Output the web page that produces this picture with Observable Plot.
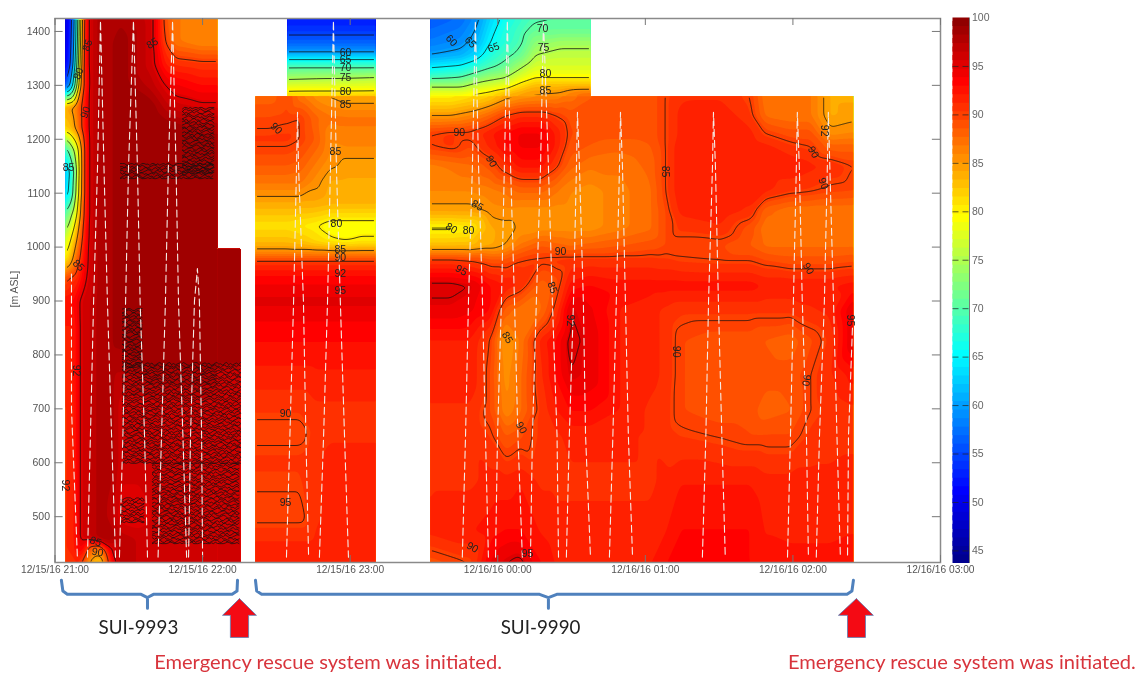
<!DOCTYPE html>
<html><head><meta charset="utf-8">
<script src="https://cdn.jsdelivr.net/npm/d3@7"></script>
<script src="https://cdn.jsdelivr.net/npm/@observablehq/plot@0.6"></script>
<style>
html,body{margin:0;padding:0;background:#fff;overflow:hidden}
#wrap{position:relative;width:1141px;height:675px}
#wrap>svg{position:absolute;left:0;top:0;background:transparent;filter:blur(0.35px)}
#wrap>svg.bar{left:945px;top:8px}
</style></head><body><div id="wrap"></div>
<script>
// Axis labels
const hourTicks=[0,60,120,180,240,300,360];
const hourLabels=["12/15/16 21:00","12/15/16 22:00","12/15/16 23:00","12/16/16 00:00","12/16/16 01:00","12/16/16 02:00","12/16/16 03:00"];
const heightTicks=[500,600,700,800,900,1000,1100,1200,1300,1400];
const barTicks=[45,50,55,60,65,70,75,80,85,90,95,100];
const rhMin=43.7,rhMax=100;

// Section SUI-9993, main part: minutes after 21:00 / m ASL / relative humidity
const aTimes=[4.3,6.3,8.3,9.6,10.8,12.4,14.4,18.5,22.6,26.6,38.8,42.1,44.9,49,59.1,66];
const aHeights=[1424,1380,1340,1300,1260,1220,1180,1140,1100,1060,1020,980,940,900,850,800,700,600,500,460,440,414];
const aValues=[
[49,52,62,72,84,93,96,98,98,98,96,93,89,87,86,86],
[49,53,63,73,85,93,96,98,98,99,96,93,90,87,86,86],
[50,54,65,75,86,93,96,98,98,99,96,94,92,91,90.5,90.5],
[55,60,70,80,87,92,96,98,98,99,97,96,95,94,93,93],
[84,85,86,88,90,93,96,98,98,99,99,98,97,96,95.5,95.5],
[82,83,85,87,90,93,96,98,98,99,99,99,99,99,98,98],
[68,72,76,80,85,92,96,98,98,99,99,99,99,99,99,99],
[62,65,72,79,85,92,96,98,98,99,99,99,99,99,99,99],
[63,66,74,80,85,92,96,98,98,99,99,99,99,99,99,99],
[70,74,78,82,87,92,96,98,98,99,99,99,99,99,99,99],
[76,79,83,86,89,93,96,98,98,99,99,99,99,99,99,99],
[80,83,87,89,91,94,96,98,98,99,99,99,99,99,99,99],
[89,91,91,92,93,95,96,98,98,99,99,99,99,99,99,99],
[93,93,93,95,95.5,96,96.5,98,98,99,99,99,99,99,99,99],
[92,92,92,95,95.5,96,96.5,98,98,99,99,99,99,99,99,99],
[91.5,92,92,95,95.5,96,96.5,98,98,98,99,99,99,99,99,99],
[91,91.5,92,95,95.5,96,96.5,98,98,96,96,96,96,96,96,96],
[91,91.5,92,95,95.5,96,96.5,98,98,96,96,96,96,96,96,96],
[91,91.5,92,95,95.5,96,96.5,98,97,95,95.5,96,96,96,96,96],
[91,91.5,92,95,95.5,96,96.5,98,98,97,96,96,96,96,96,96],
[91,91.5,92,94,94,92,88,87,95,97,96,96,96,96,96,96],
[90,90.5,91,91.5,90,88,84,82,92,97,96,96,96,96,96,96]];

// SUI-9993, lower tail
const a2Times=[66,75.4];
const a2Heights=[997,900,790,770,415];
const a2Values=[[99,99],[99,99],[99,99],[96,96],[96,96]];

// SUI-9990, first block, upper part
const bTopTimes=[94.5,112,130.3];
const bTopHeights=[1424,1402,1376,1361,1348,1333,1313,1289,1280];
const bTopValues=[[52.5,52.5,52.5],[54,54,54],[57,57,57],[60,60,60],[65,65,65],[70,70,70],[74.5,75,75.5],[80,80,80],[82,82.5,83]];

// SUI-9990, first block, main part
const bTimes=[81.5,87.6,94.5,99.8,105.9,112,118.1,124.2,130.3];
const bHeights=[1280,1240,1200,1160,1120,1081,1040,1010,990,970,940,900,851,801,700,660,604,500,446,415];
const bValues=[
[88,88,89.5,87,85.5,84.8,84,84,84],
[89.5,89.5,89.8,90,88,87,87,87,87],
[90.5,90.5,90.5,90,88.5,86,86.5,86.5,86.5],
[89,89,89,88.5,87,85.5,84.8,84.8,84.8],
[87,87,87,87,85.5,84,84,84,84],
[84,84,84,84,84,83.5,83.5,83.5,83.5],
[81,81,81,80.5,80,79,79,79,79],
[83,83,83,82.5,81.5,80.5,80,80.5,80.5],
[86,86,86,86,86,86,86,86,86],
[91,91,91,91,91,91,91,91,91],
[93.5,93.5,93.5,93.5,93.5,93.5,93.5,93.5,93.5],
[95,95,95,95,95,95,95,95,95],
[93.5,93.5,93.5,93.5,93.5,93.5,93.5,93.5,93.5],
[92.5,92.5,92.5,92.5,92.5,92.5,92.5,92.5,92.5],
[90.5,90.5,90.5,90.5,91,91,91,91,91],
[89.5,89.5,89.5,89.5,90.7,91,91,91,91],
[90.5,90.5,90.5,90.5,91,91.5,91.5,91.5,91.5],
[89.6,89.6,89.6,89.6,91,91.5,91.5,91.5,91.5],
[91.5,91.5,91.5,91.5,91.5,91.5,91.5,91.5,91.5],
[92,92,92,92,92,92,92,92,92]];

// SUI-9990, second block, upper part
const cTopTimes=[152.6,164.8,170.9,177,183.1,189.2,195.3,205.5,217.7];
const cTopHeights=[1424,1402,1380,1356,1337,1319,1300,1280];
const cTopValues=[
[56,57,59,63,66,68,69.5,70,70],
[57,58,60,64,67,69,71,71,71],
[58,59,61,65,67.5,69.5,73,74,74],
[60,61,63,67,69,71,75,76,76],
[64,65,67,69,71,74,77,77,77],
[68,69,71,73,74,77,79,79,79],
[74,74,76,77,78,81,83,83,83],
[80,80,81,82,84,85,85.5,86,88.5]];

// SUI-9990, second block, main part
const cTimes=[152.6,160.8,168.9,177,183.1,189.2,197.4,203.5,209.6,217.7,229.9,242.1,248.2,254.2,270.5,282.7,288.8,299,307.1,315.2,324.5];
const cHeights=[1280,1244,1211,1187,1151,1105,1068,1035,1003,975,929,882,827,762,697,650,567,474,414];
const cValues=[
[80,80,81,82,84,85,85.5,86,87,88.5,89,89,90,91,91,90,87,87,87,84,84],
[85,85,86,88,90,91,91,90,89,89,89,89,90,91.5,92,90.5,87.5,87,87,84,84.5],
[90,90.5,90.5,92,93,94,94,92,89.5,89,89,89,90,91.5,92,91.5,90,89,89,85.5,86],
[90,90.5,89.5,91.5,93,94,94,92,89,88.5,88,88.5,90,92,92,92,91.5,90.5,90,88,88],
[86.5,87,87.5,89,91,92.5,92.5,90.5,88,87,87,88,90,92,92,92,92,92,91.5,91,90],
[86,86,86,86.5,87,88,88,87,86,85.5,86.5,87.5,90,92,92,92,91.5,90.5,90.2,89.7,89.5],
[84.5,84.5,84.5,85.5,85.7,85.5,85.5,85.5,85.5,85.5,86.5,87.5,89.5,91.5,92,91,88,87,87,87,87],
[79.5,79.5,80,84,84.5,85.2,85.5,85.5,85.5,85.5,86.5,87.5,89.5,90.5,91,89,87,87,87,87,87],
[83,83,83,84,85,87,88.5,88,87.5,88,88.5,89,89.5,89.5,89.5,88.5,87.5,87.5,87.5,87.5,87.5],
[90.5,90.5,90,89,89,90,90.3,90.5,90.7,90.7,90.7,90.7,90.5,90.2,90,90,89.5,89,89,89,89.3],
[95.5,95.5,95,93,92,91,88,89,92.5,93,92.5,92.5,92.5,92.5,92.5,92.5,92,92,92,92,92.5],
[94.5,94.5,94,93,88,87,87.5,90.5,95,94,92,91.5,91,90.5,90.5,90.5,90.5,90.5,91,91.5,95],
[92,92,92,90,84.5,87,91.5,93,95.5,94.5,92,91.5,91,89.5,89,89,88.5,88,89.3,90.5,95],
[92,92,92,89.5,85.3,87.5,91,93,95,94.5,92,91.5,91,89.5,89,89,89,89,90,91,92.5],
[91,91,91,89.5,86,87.5,90.5,92,93,93,92,91,90.7,89.5,89,89,88,88.5,90,90.5,91],
[91,91,91,90.3,88.5,89.3,90.5,91,91.5,91.5,91.5,91,90.7,90.3,89.9,89.5,89.5,89.5,90.5,90.7,91],
[91,91,91,91.5,91.5,92,91,91,91,91,91,91,91.5,92,92,92,91.5,91.5,91.5,91.5,91.5],
[91.5,92,92,92.5,93,93,92,91.5,91.5,91.5,91.5,91.5,92,93,93,93,92,91.5,91.5,91.5,92],
[89,89.5,90,94,95,95.5,93,92,92,92,92,92,93,93,93,93,92.5,93,93,93,93]];

// Tangled isolines of the SUI-9993 block: [t1,t2,h1,h2]
const tangleBlocks=[[51.8,65.2,1137,1259],[26.6,64.4,1127,1155],[27.4,36,777,886],[27.4,75.4,599,786],[39.6,75.4,450,599],[26.6,36.8,489,535]];
const tangleWiggle=[0,1.5,-1,2.5,0.5,-2,-3,-0.5,1,3,2,-1.5,-2.5,0.5,2,-1,1.5,-3,-2,1,3,-0.5,0,-2.5,1,2.5,-1.5,0.5,-2];

// Flight tracks: heights, then minutes for the ascent and descent legs
const trackHeightsHigh=[425,650,900,1150,1420,1150,900,650,425];
const trackHeightsLow=[425,650,900,1150,1250,1150,900,650,425];
const tracksHigh=[
[13.2,14.4,15.7,17.3,18.5,19.9,21.3,23,24.6],
[26.2,27.6,28.7,29.9,31.9,33.5,34.6,36.4,37.6],
[41.9,43.3,44.9,46.1,47.8,49.2,50.2,52,53.5],
[107.5,109.2,110.8,112,113.2,114.4,116,117.7,119.3],
[165.6,166.9,168.1,169.7,170.9,172.2,173.8,175,176.2],
[179.1,179.9,181.5,182.7,183.9,185.2,186.8,188.2,190],
[193.3,194.1,195.7,197.4,198.6,200.6,202.2,204.1,204.7]];
const tracksLow=[
[94.1,95.5,97,98.2,98.6,99,101,102,103.1],
[207.9,209.1,210.8,212,212.4,213.2,214.8,215.7,217.7],
[225.4,226.8,228.2,229.5,229.9,230.7,231.9,233.1,234.8],
[263.2,264.6,265.7,267.3,267.7,268.5,269.7,271.1,272.5],
[297.8,299,300.2,301.4,301.8,302.6,303.8,305.5,306.3],
[309.5,310.8,312.8,314,314.4,315,316.5,317.9,319.3]];
const trackShort={t:[54.3,55.1,56.7,57.9,58.7,59.6,60],h:[425,650,900,960,900,650,425]};
const trackFirst={t:[6.7,6.7,9.1],h:[950,700,425]};
const trackEdge={t:[324.2,322.6,322.2],h:[850,650,425]};

// Isoline labels: minutes, height, text, rotation
const isoLabels=[
[39.6,1378,"85",-30],[13.2,1374,"85",-70],[9.6,1322,"80",-70],[12.4,1250,"90",-70],[5.5,1148,"85",0],[9.6,966,"85",45],[8.7,771,"92",90],[4.3,558,"92",90],[16.5,454,"85",20],[17.3,434,"90",10],
[118.1,1361,"60",0],[118.1,1348,"65",0],[118.1,1333,"70",0],[118.1,1315,"75",0],[118.1,1289,"80",0],[118.1,1265,"85",0],[90,1220,"90",45],[114,1177,"85",0],[114.4,1044,"80",0],[116,996,"85",0],[116,981,"90",0],[116,951,"92",0],[116,920,"95",0],[93.7,691,"90",0],[93.7,526,"95",0],
[161.2,1383,"60",45],[168.9,1380,"65",45],[178.3,1370,"65",-20],[198.2,1406,"70",0],[198.6,1370,"75",0],[199.4,1322,"80",0],[199.4,1291,"85",0],[164.4,1213,"90",0],[177.4,1159,"90",60],[171.7,1077,"85",30],[161.2,1035,"80",30],[168.1,1031,"80",0],[205.5,992,"90",0],[165.2,957,"95",30],[202.2,925,"85",70],[183.9,832,"85",60],[189.6,665,"90",60],[209.6,864,"92",90],[252.6,806,"90",90],[305.5,753,"90",100],[248.2,1140,"85",90],[308.3,1176,"90",60],[312.8,1216,"92",90],[312.4,1118,"90",70],[306.3,960,"90",60],[169.7,443,"90",30],[192.1,432,"95",0],[323.3,864,"95",90]];

// Annotations under the axis
const bracketHeights=[382,362,356,356,350,330,350,356,356,362,382];
const bracketA=[2.6,3.2,5,35,37.6,37.6,37.6,40,72,74,74.2];
const bracketB=[81.5,82,84,197,200.6,200.6,200.6,204,322,324,324.6];
const arrowHeights=[348,317,317,276,276,317,317,348];
const arrowA=[75,68.1,71.3,71.3,78.7,78.7,81.9,75];
const arrowB=[325.8,318.5,322.2,322.2,329.5,329.5,332.7,325.8];
const noteTimes=[33.9,197.4,111,368.7];
const noteHeights=[294,294,229,229];
const noteTexts=["SUI-9993","SUI-9990","Emergency rescue system was initiated.","Emergency rescue system was initiated."];

const jetStops=["#00008f","#0000ff","#00ffff","#ffff00","#ff0000","#800000"];
const jetScale=d3.scaleLinear().domain([0,.125,.375,.625,.875,1]).range(jetStops).interpolate(d3.interpolateRgb);
const colorOpt={type:"linear",domain:[rhMin,rhMax],interpolate:t=>jetScale(t)};

const fillLevels=d3.range(0,64).map(i=>rhMin+i*(rhMax-rhMin)/64);
const lineLevels=[55,60,65,70,75,80,85,90,95];

function table(ts,hs,vals){const out=[];hs.forEach((h,i)=>ts.forEach((t,j)=>out.push({t,h,v:vals[i][j]})));return out;}
function section(ts,hs,vals){
  const data=table(ts,hs,vals);
  const bounds={x:"t",y:"h",x1:ts[0],x2:ts[ts.length-1],y1:hs[0],y2:hs[hs.length-1],interpolate:"barycentric",pixelSize:1,blur:2};
  return [
    Plot.contour(data,{...bounds,fill:"v",thresholds:fillLevels,stroke:"none"}),
    Plot.contour(data,{...bounds,value:"v",thresholds:lineLevels,stroke:"#111",fill:"none",strokeWidth:0.8})
  ];
}
const grids=[[aTimes,aHeights,aValues],[a2Times,a2Heights,a2Values],[bTopTimes,bTopHeights,bTopValues],[bTimes,bHeights,bValues],[cTopTimes,cTopHeights,cTopValues],[cTimes,cHeights,cValues]];
const sections=grids.map(g=>section(...g));

const tangle=[];
tangleBlocks.forEach(([t1,t2,h1,h2],b)=>{
  let row=0;
  for(let h=h1;h<h2;h+=4.5){
    let k=row*row+row*5;
    for(let t=t1;t<=t2;t+=0.8,k++){
      tangle.push({id:b+"-"+row,t,h:Math.min(h2,Math.max(h1,h+tangleWiggle[k%tangleWiggle.length]))});
    }
    row++;
  }
});

const tracks=[];
tracksHigh.forEach((r,i)=>r.forEach((t,j)=>tracks.push({id:"H"+i,t,h:trackHeightsHigh[j]})));
tracksLow.forEach((r,i)=>r.forEach((t,j)=>tracks.push({id:"L"+i,t,h:trackHeightsLow[j]})));
[["S",trackShort],["F",trackFirst],["E",trackEdge]].forEach(([id,tr])=>tr.t.forEach((t,j)=>tracks.push({id,t,h:tr.h[j]})));

const pts=(xs,ys)=>xs.map((t,i)=>({t,h:ys[i]}));
const font="'Liberation Sans',Arial,sans-serif";
const chart=Plot.plot({
  width:1141,height:675,marginLeft:54.5,marginRight:201,marginTop:18,marginBottom:113,
  style:{background:"transparent",fontFamily:font},
  x:{domain:[0,360],axis:null},
  y:{domain:[415,1424],axis:null},
  color:colorOpt,
  marks:[
    sections,
    Plot.line(tangle,{x:"t",y:"h",z:"id",stroke:"#111",strokeWidth:0.75,curve:"linear"}),
    Plot.line(tracks,{x:"t",y:"h",z:"id",stroke:"#f4ece6",strokeWidth:1.1,strokeDasharray:"7,4"}),
    Plot.text(isoLabels,{x:d=>d[0],y:d=>d[1],text:d=>d[2],rotate:d=>d[3],fontSize:10.5,fill:"#222"}),
    Plot.frame({stroke:"#8a8a8a",strokeWidth:1.5}),
    Plot.ruleX(hourTicks,{y1:415,y2:428,stroke:"#777"}),
    Plot.ruleX(hourTicks,{y1:1424,y2:1411,stroke:"#777"}),
    Plot.ruleY(heightTicks,{x1:0,x2:3.3,stroke:"#777"}),
    Plot.ruleY(heightTicks,{x1:360,x2:356.7,stroke:"#777"}),
    Plot.axisX(hourTicks,{anchor:"bottom",tickSize:0,tickPadding:3,label:null,tickFormat:d=>hourLabels[hourTicks.indexOf(d)],fontSize:10.2,fill:"#555"}),
    Plot.axisY(heightTicks,{anchor:"left",tickSize:0,tickPadding:5,label:null,fontSize:10.5,fill:"#555",tickFormat:d=>String(d)}),
    Plot.text(["[m ASL]"],{x:-16.5,y:922,rotate:-90,fontSize:10.5,fill:"#555"}),
    Plot.line(pts(bracketA,bracketHeights),{x:"t",y:"h",stroke:"#4f81bd",strokeWidth:3,curve:"linear"}),
    Plot.line(pts(bracketB,bracketHeights),{x:"t",y:"h",stroke:"#4f81bd",strokeWidth:3,curve:"linear"}),
    Plot.line(pts(arrowA,arrowHeights),{x:"t",y:"h",fill:"#f40a14",stroke:"#5b7fb5",strokeWidth:0.8,curve:"linear"}),
    Plot.line(pts(arrowB,arrowHeights),{x:"t",y:"h",fill:"#f40a14",stroke:"#5b7fb5",strokeWidth:0.8,curve:"linear"}),
    Plot.text(noteTexts.slice(0,2),{x:(d,i)=>noteTimes[i],y:(d,i)=>noteHeights[i],fontFamily:"Lato",fontSize:18.8,fill:"#222"}),
    Plot.text(noteTexts.slice(2),{x:(d,i)=>noteTimes[i+2],y:(d,i)=>noteHeights[i+2],fontFamily:"Lato",fontSize:20.1,fill:"#d8343c"})
  ]
});
// The isoline polygons close along each block's edge: keep only their inner part.
const sx=chart.scale("x"),sy=chart.scale("y");
const ns="http://www.w3.org/2000/svg";
const defs=document.createElementNS(ns,"defs");chart.appendChild(defs);
const contourGroups=chart.querySelectorAll('g[aria-label="contour"]');
grids.forEach(([ts,hs],i)=>{
  const g=contourGroups[2*i+1];if(!g)return;
  const cp=document.createElementNS(ns,"clipPath");cp.setAttribute("id","sec"+i);
  const r=document.createElementNS(ns,"rect");
  const x0=sx.apply(ts[0])+1.6,x1=sx.apply(ts[ts.length-1])-1.6,y0=sy.apply(hs[0])+1.6,y1=sy.apply(hs[hs.length-1])-1.6;
  r.setAttribute("x",x0);r.setAttribute("y",y0);r.setAttribute("width",x1-x0);r.setAttribute("height",y1-y0);
  cp.appendChild(r);defs.appendChild(cp);
  g.setAttribute("clip-path","url(#sec"+i+")");
});
document.getElementById("wrap").appendChild(chart);

const barStep=(rhMax-rhMin)/64;
const bar=Plot.plot({
  width:60,height:565,marginLeft:7.5,marginRight:36,marginTop:9.5,marginBottom:10,
  style:{background:"transparent",fontFamily:font},
  x:{domain:[0,1],axis:null},
  y:{domain:[rhMin,rhMax],axis:null},
  color:colorOpt,
  marks:[
    Plot.rect(fillLevels,{x1:0,x2:1,y1:d=>d,y2:d=>Math.min(rhMax,d+barStep*1.6),fill:d=>d}),
    Plot.ruleY(barTicks.slice(0,-1),{x1:0,x2:1,stroke:"#222",strokeOpacity:.7,strokeDasharray:"6,4"}),
    Plot.ruleX([1],{stroke:"#777"}),
    Plot.text(barTicks,{x:1,y:d=>d,dx:2.5,text:String,textAnchor:"start",fontSize:10.5,fill:"#666"})
  ]
});
bar.setAttribute("class",(bar.getAttribute("class")||"")+" bar");
document.getElementById("wrap").appendChild(bar);
</script></body></html>
